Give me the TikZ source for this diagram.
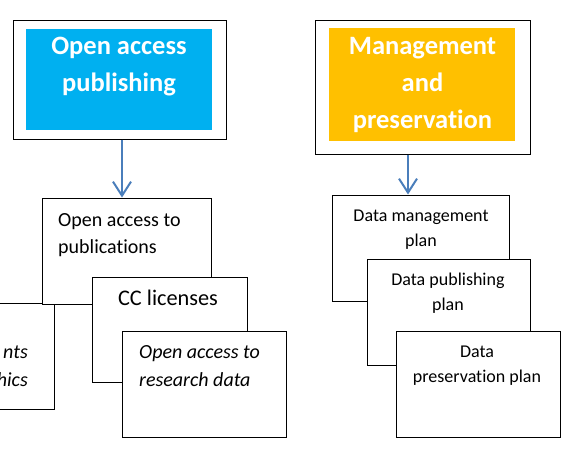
\documentclass[tikz,border=0pt]{standalone}
\usepackage{fontspec}
\setmainfont[Ligatures=NoCommon]{Carlito}
\usetikzlibrary{arrows.meta}
\definecolor{azulOA}{HTML}{00B0F0}
\definecolor{naranjaMP}{HTML}{FFC000}
\definecolor{flechaazul}{HTML}{4A7EBB}
\tikzset{
  marco/.style={draw=black, line width=1pt, fill=white, inner sep=0pt},
  fondo/.style={fill=#1, draw=none, inner sep=0pt},
  titulo/.style={text=white, font=\fontsize{26.5}{37}\selectfont\bfseries,
    align=center, inner sep=0pt, anchor=base},
  textoA/.style={font=\fontsize{20}{27}\selectfont, inner sep=0pt},
  textoB/.style={font=\fontsize{18}{25}\selectfont, inner sep=0pt,
    align=center, anchor=base},
}
\begin{document}
\begin{tikzpicture}[x=1pt, y=-1pt,
    >={Straight Barb[length=14pt, width=18pt, line width=2pt]}]
    \useasboundingbox (0,0) rectangle (583,467);
    \clip (0,0) rectangle (583,467);
    % Cabeceras
    \node[marco, minimum width=213pt, minimum height=119pt] (hdrA) at (119.5,79.5) {};
    \node[fondo=azulOA, minimum width=186pt, minimum height=101pt] (hdrAin) at (119,79.5) {};
    \node[titulo] (titA) at (119,91) {Open access\\publishing};
    \node[marco, minimum width=215pt, minimum height=134pt] (hdrB) at (422.5,87) {};
    \node[fondo=naranjaMP, minimum width=186pt, minimum height=113pt] (hdrBin) at (422,84.5) {};
    \node[titulo] (titB) at (422.5,128) {Management\\and\\preservation};
    % Tarjetas de publicacion (izquierda)
    \node[marco, minimum width=164pt, minimum height=106pt] (pubA0) at (-28,356) {};
    \node[textoA, font=\fontsize{20}{28}\selectfont\itshape, align=right, anchor=base east]
        (tA0) at (28,386) {nts\\hics};
    \node[marco, minimum width=169pt, minimum height=106pt] (pubA1) at (126.5,251) {};
    \node[textoA, align=left, anchor=base west] (tA1) at (58,253)
        {Open access to\\publications};
    \node[marco, minimum width=155pt, minimum height=105pt] (pubA2) at (169.5,329.5) {};
    \node[textoA, font=\fontsize{22.3}{27}\selectfont, anchor=base] (tA2) at (168,305)
        {CC licenses};
    \node[marco, minimum width=164pt, minimum height=106pt] (pubA3) at (204,384) {};
    \node[textoA, font=\fontsize{20}{28}\selectfont\itshape, align=left, anchor=base west]
        (tA3) at (139,386) {Open access to\\research data};
    % Tarjetas de gestion (derecha)
    \node[marco, minimum width=177pt, minimum height=106pt] (pubB1) at (420.5,248) {};
    \node[textoB] (tB1) at (421,246) {Data management\\plan};
    \node[marco, minimum width=163pt, minimum height=106pt] (pubB2) at (448.5,312) {};
    \node[textoB] (tB2) at (448,310) {Data publishing\\plan};
    \node[marco, minimum width=164pt, minimum height=106pt] (pubB3) at (478,384) {};
    \node[textoB] (tB3) at (477,382) {Data\\preservation plan};
    % Flechas
    \coordinate (flechaA) at (122,0);
    \coordinate (flechaB) at (408,0);
    \draw[->, flechaazul, line width=2pt] (hdrA.south -| flechaA) -- (pubA1.north -| flechaA);
    \draw[->, flechaazul, line width=2pt] (hdrB.south -| flechaB) -- (pubB1.north -| flechaB);
\end{tikzpicture}
\end{document}
